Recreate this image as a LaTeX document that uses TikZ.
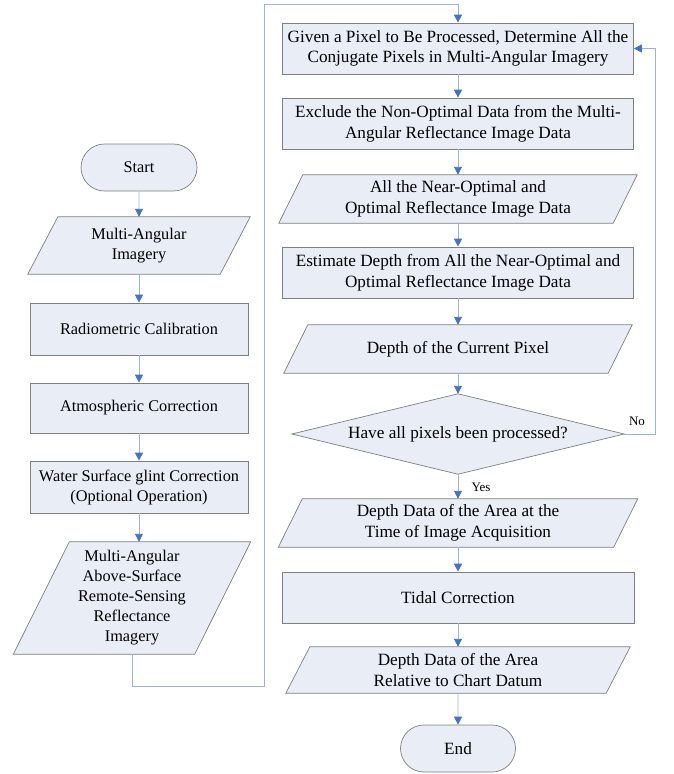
\documentclass[tikz,border=0pt]{standalone}
\usepackage{fontspec}
\setmainfont{Liberation Serif}
\usetikzlibrary{arrows.meta,shapes.misc,backgrounds}
\definecolor{boxfill}{HTML}{E8EDF6}
\definecolor{boxline}{HTML}{7F7F7F}
\definecolor{connline}{HTML}{9BB4DA}
\definecolor{arrowblue}{HTML}{4472C4}
\begin{document}
\begin{tikzpicture}[x=1pt,y=-1pt,
  every node/.style={font=\fontsize{16.3}{20}\selectfont, align=center, inner sep=0pt},
  rfont/.style={font=\fontsize{17.2}{20.7}\selectfont},
  procbox/.style={rectangle, draw=boxline, fill=boxfill, line width=0.7pt, minimum width=#1, minimum height=51pt},
  procbox/.default=218pt,
  databox/.style={rectangle, minimum width=#1, minimum height=48pt},
  databox/.default=192pt,
  termbox/.style={rounded rectangle, draw=boxline, fill=boxfill, line width=0.7pt, minimum width=116pt, minimum height=47pt},
  shapeline/.style={draw=boxline, fill=boxfill, line width=0.7pt},
  conn/.style={draw=connline, line width=0.9pt},
  arr/.style={conn, -{Triangle[width=8pt,length=8pt,color=arrowblue]}},
  lbl/.style={font=\fontsize{13}{15}\selectfont}
]
\useasboundingbox (0,0) rectangle (673,774);

% left column
\node[termbox] (start) at (139,167.5) {Start};
\node[databox=192pt, minimum height=57pt] (mai) at (139,245.5) {Multi-Angular\\Imagery};
\node[procbox=218pt, minimum height=52pt] (rad) at (139,329) {Radiometric Calibration};
\node[procbox=218pt, minimum height=50pt] (atm) at (139,408) {Atmospheric Correction};
\node[procbox=218pt, minimum height=52pt] (wat) at (139,487) {Water Surface glint Correction\\(Optional Operation)};
\node[databox=181pt, minimum height=112pt] (mar) at (132,598) {Multi-Angular\\Above-Surface\\Remote-Sensing\\Reflectance\\Imagery};

% right column
\node[procbox=351pt, rfont] (b1) at (458,48.5) {Given a Pixel to Be Processed, Determine All the\\Conjugate Pixels in Multi-Angular Imagery};
\node[procbox=351pt, rfont] (b2) at (458,123.5) {Exclude the Non-Optimal Data from the Multi-\\Angular Reflectance Image Data};
\node[databox=334pt, rfont] (p3) at (458,199) {All the Near-Optimal and\\Optimal Reflectance Image Data};
\node[procbox=351pt, rfont] (b4) at (458,272.5) {Estimate Depth from All the Near-Optimal and\\Optimal Reflectance Image Data};
\node[databox=324pt, rfont] (p5) at (458,349) {Depth of the Current Pixel};
\node[rectangle, minimum width=332pt, minimum height=80pt, rfont] (dec) at (458,434) {Have all pixels been processed?};
\node[databox=335pt, rfont] (p7) at (458,523) {Depth Data of the Area at the\\Time of Image Acquisition};
\node[procbox=352pt, rfont] (tid) at (458,597.5) {Tidal Correction};
\node[databox=320pt, minimum height=46pt, rfont] (p9) at (458,670) {Depth Data of the Area\\Relative to Chart Datum};
\node[termbox, minimum width=115pt, rfont] (end) at (458,748.5) {End};

\node[lbl] (no) at (637,421) {No};
\node[lbl] (yes) at (481,487) {Yes};

\begin{scope}[on background layer]
\foreach \n/\h in {mai/15pt, mar/28pt, p3/12pt, p5/12pt, p7/12pt, p9/12pt}
  \filldraw[shapeline] ([xshift=\h]\n.north west) -- ([xshift=\h]\n.north east) -- ([xshift=-\h]\n.south east) -- ([xshift=-\h]\n.south west) -- cycle;
\filldraw[shapeline] (dec.west) -- (dec.north) -- (dec.east) -- (dec.south) -- cycle;
\end{scope}

% connectors
\draw[arr] (start) -- (mai);
\draw[arr] (mai) -- (rad);
\draw[arr] (rad) -- (atm);
\draw[arr] (atm) -- (wat);
\draw[arr] (wat.south) -- (wat.south |- mar.north);
\coordinate (l1) at (132,686);
\coordinate (l2) at (264,686);
\coordinate (l3) at (264,4);
\coordinate (l4) at (458,4);
\draw[arr] (mar.south) -- (l1) -- (l2) -- (l3) -- (l4) -- (b1.north);
\draw[arr] (b1) -- (b2);
\draw[arr] (b2) -- (p3);
\draw[arr] (p3) -- (b4);
\draw[arr] (b4) -- (p5);
\draw[arr] (p5) -- (dec);
\draw[arr] (dec) -- (p7);
\draw[arr] (p7) -- (tid);
\draw[arr] (tid) -- (p9);
\draw[arr] (p9) -- (end);
\coordinate (fb) at (655,434);
\draw[arr] (dec.east) -- (fb) |- (b1.east);
\end{tikzpicture}
\end{document}
